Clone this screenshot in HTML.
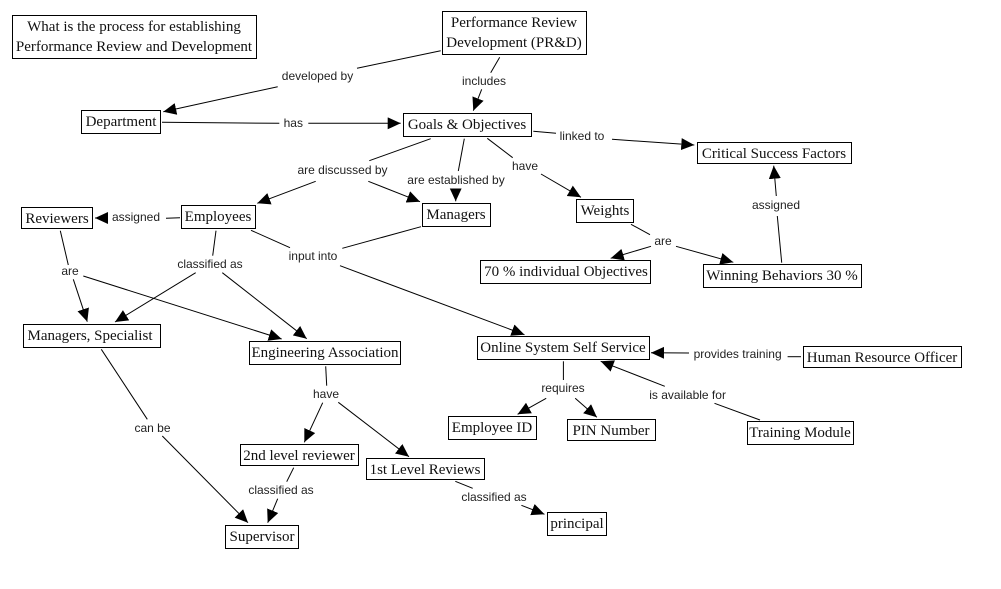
<!DOCTYPE html>
<html><head><meta charset="utf-8"><style>
html,body{margin:0;padding:0;background:#fff}
svg{display:block}
.n text{font-family:"Liberation Serif",serif;font-size:15px;fill:#111;text-anchor:middle}
.l text{font-family:"Liberation Sans",sans-serif;font-size:12px;fill:#222;text-anchor:middle}
.n rect{fill:#fff;stroke:#000;stroke-width:1}
.e line{stroke:#000;stroke-width:1}
.a line{stroke:#000;stroke-width:1;marker-end:url(#h)}
</style></head><body>
<svg width="1001" height="589" viewBox="0 0 1001 589" xmlns="http://www.w3.org/2000/svg">
<defs><marker id="h" markerUnits="userSpaceOnUse" markerWidth="14" markerHeight="13" refX="13" refY="6" orient="auto"><path d="M0,0L13,6L0,12z" fill="#000"/></marker></defs>
<g class="e">
<line x1="440.7" y1="50.7" x2="357" y2="68.3"/>
<line x1="499.7" y1="57.3" x2="490.7" y2="72.7"/>
<line x1="162" y1="122.3" x2="279.3" y2="123.3"/>
<line x1="430.7" y1="138.7" x2="369.3" y2="160.7"/>
<line x1="464.3" y1="138.7" x2="458.3" y2="171"/>
<line x1="180" y1="217.7" x2="166" y2="218.3"/>
<line x1="216" y1="230.7" x2="212.7" y2="255.7"/>
<line x1="60.3" y1="230.7" x2="68.3" y2="265"/>
<line x1="251" y1="230.3" x2="290" y2="247.7"/>
<line x1="421" y1="226.7" x2="342.3" y2="248.3"/>
<line x1="487.3" y1="138.3" x2="512.7" y2="157.7"/>
<line x1="533.3" y1="131.3" x2="556" y2="133.3"/>
<line x1="631" y1="224.3" x2="650" y2="234.7"/>
<line x1="781.7" y1="262.7" x2="777.3" y2="216"/>
<line x1="101.3" y1="349.3" x2="147.3" y2="419.3"/>
<line x1="325.7" y1="366.3" x2="326.7" y2="385.7"/>
<line x1="293.7" y1="467.7" x2="286.7" y2="481.7"/>
<line x1="455.3" y1="481.3" x2="472.7" y2="488.3"/>
<line x1="563.4" y1="361.3" x2="563.4" y2="380"/>
<line x1="801" y1="356.7" x2="787.6" y2="356.7"/>
<line x1="760" y1="420" x2="714.5" y2="403.3"/>
</g>
<g class="a">
<line x1="277.7" y1="86.7" x2="163.3" y2="111.7"/>
<line x1="481.7" y1="89.3" x2="473.3" y2="110.7"/>
<line x1="308.3" y1="123.3" x2="400.7" y2="123.3"/>
<line x1="315.7" y1="181.3" x2="257.3" y2="203.3"/>
<line x1="368.3" y1="181.3" x2="420" y2="201.7"/>
<line x1="455.7" y1="190" x2="455.7" y2="201.3"/>
<line x1="106.7" y1="218" x2="95" y2="218"/>
<line x1="195.7" y1="272.7" x2="115" y2="322"/>
<line x1="222.3" y1="272.7" x2="306.7" y2="338.7"/>
<line x1="73.3" y1="279.3" x2="87.3" y2="321.7"/>
<line x1="83.3" y1="276" x2="281.7" y2="339"/>
<line x1="340" y1="265.7" x2="524.5" y2="334.7"/>
<line x1="541" y1="174" x2="581" y2="197.3"/>
<line x1="612" y1="139.3" x2="694.3" y2="145"/>
<line x1="651" y1="246.3" x2="610.7" y2="258.3"/>
<line x1="676" y1="246.3" x2="733.3" y2="262.3"/>
<line x1="776.3" y1="196" x2="773.7" y2="165.7"/>
<line x1="162.3" y1="436" x2="248" y2="522.7"/>
<line x1="322.7" y1="402.7" x2="304.3" y2="442.3"/>
<line x1="338.3" y1="402.3" x2="409" y2="456.7"/>
<line x1="277.7" y1="498.7" x2="267.7" y2="522.7"/>
<line x1="521.4" y1="505.3" x2="544.5" y2="514.3"/>
<line x1="546.2" y1="398.3" x2="517.6" y2="414.3"/>
<line x1="575.2" y1="398.3" x2="596.9" y2="417.3"/>
<line x1="689" y1="353" x2="651" y2="352.7"/>
<line x1="664.8" y1="386.3" x2="600.7" y2="361.3"/>
</g>
<g class="n">
<rect x="12.5" y="15.5" width="244" height="43"/><text x="134" y="31">What is the process for establishing</text><text x="134" y="51">Performance Review and Development</text>
<rect x="442.5" y="11.5" width="144" height="43"/><text x="514" y="27">Performance Review</text><text x="514" y="47">Development (PR&amp;D)</text>
<rect x="81.5" y="110.5" width="79" height="23"/><text x="121" y="126">Department</text>
<rect x="403.5" y="113.5" width="128" height="23"/><text x="467" y="129">Goals &amp; Objectives</text>
<rect x="697.5" y="142.5" width="154" height="21"/><text x="774" y="158">Critical Success Factors</text>
<rect x="21.5" y="207.5" width="71" height="21"/><text x="57" y="223">Reviewers</text>
<rect x="181.5" y="205.5" width="74" height="23"/><text x="218" y="221">Employees</text>
<rect x="422.5" y="203.5" width="68" height="23"/><text x="456" y="219">Managers</text>
<rect x="576.5" y="199.5" width="57" height="23"/><text x="605" y="215">Weights</text>
<rect x="480.5" y="260.5" width="170" height="23"/><text x="566" y="276">70 % individual Objectives</text>
<rect x="703.5" y="264.5" width="158" height="23"/><text x="782" y="280">Winning Behaviors 30 %</text>
<rect x="23.5" y="324.5" width="137" height="23"/><text x="90" y="340">Managers, Specialist</text>
<rect x="249.5" y="341.5" width="151" height="23"/><text x="325" y="357">Engineering Association</text>
<rect x="477.5" y="336.5" width="172" height="23"/><text x="563" y="352">Online System Self Service</text>
<rect x="803.5" y="346.5" width="158" height="21"/><text x="882" y="362">Human Resource Officer</text>
<rect x="448.5" y="416.5" width="88" height="23"/><text x="492" y="432">Employee ID</text>
<rect x="567.5" y="419.5" width="88" height="21"/><text x="611" y="435">PIN Number</text>
<rect x="747.5" y="421.5" width="106" height="23"/><text x="800" y="437">Training Module</text>
<rect x="240.5" y="444.5" width="118" height="21"/><text x="299" y="460">2nd level reviewer</text>
<rect x="366.5" y="458.5" width="118" height="21"/><text x="425" y="474">1st Level Reviews</text>
<rect x="225.5" y="525.5" width="73" height="23"/><text x="262" y="541">Supervisor</text>
<rect x="547.5" y="512.5" width="59" height="23"/><text x="577" y="528">principal</text>
</g>
<g class="l">
<text x="317.5" y="80">developed by</text>
<text x="484" y="85">includes</text>
<text x="293.3" y="127">has</text>
<text x="342.5" y="174">are discussed by</text>
<text x="456" y="184">are established by</text>
<text x="136" y="221">assigned</text>
<text x="210" y="268">classified as</text>
<text x="70" y="275">are</text>
<text x="313" y="260">input into</text>
<text x="525" y="170">have</text>
<text x="582" y="140">linked to</text>
<text x="663" y="245">are</text>
<text x="776" y="209">assigned</text>
<text x="152.5" y="432">can be</text>
<text x="326" y="398">have</text>
<text x="281" y="494">classified as</text>
<text x="494" y="501">classified as</text>
<text x="563" y="392">requires</text>
<text x="737.6" y="358">provides training</text>
<text x="687.6" y="399">is available for</text>
</g>
</svg>
</body></html>
